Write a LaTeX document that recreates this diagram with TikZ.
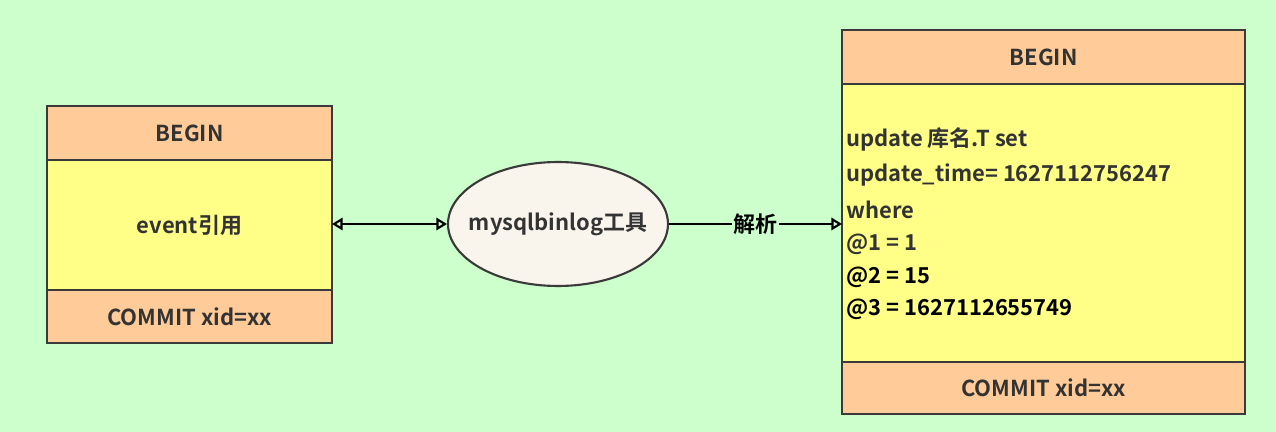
\documentclass[tikz,border=0pt]{standalone}
\usepackage{fontspec}
\setmainfont{Noto Sans CJK SC}[BoldFont={Noto Sans CJK SC Bold}]
\usetikzlibrary{shapes,positioning,arrows.meta}
\definecolor{bgc}{HTML}{CCFFCC}
\definecolor{headc}{HTML}{FFCC99}
\definecolor{bodyc}{HTML}{FFFF88}
\definecolor{ovalc}{HTML}{F9F5EC}
\definecolor{linec}{HTML}{3A3A3A}
\definecolor{txtc}{HTML}{333333}

\begin{document}
\begin{tikzpicture}[x=0.02cm,y=-0.02cm,
  band/.style={draw=linec,line width=1.2pt},
  lbl/.style={font=\fontsize{12.5}{15}\selectfont\bfseries,text=txtc},
  link/.style={line width=1.2pt,-{Triangle[open,length=6pt,width=7pt]}}]

\fill[bgc] (0,0) rectangle (1276,432);
\useasboundingbox (0,0) rectangle (1276,432);

% left block
\filldraw[band,fill=headc] (47,106) rectangle (332,160);
\filldraw[band,fill=bodyc] (47,160) rectangle (332,290);
\filldraw[band,fill=headc] (47,290) rectangle (332,343);
\node[lbl] (lbegin) at (189.5,133) {BEGIN};
\node[lbl] (levent) at (189.5,225) {event引用};
\node[lbl] (lcommit) at (189.5,317) {COMMIT xid=xx};
\coordinate (lright) at (332,224);

% tool
\node[ellipse,draw=linec,line width=1.2pt,fill=ovalc,
      inner sep=0pt,minimum width=4.4cm,minimum height=2.48cm] (tool) at (558,224) {};
\node[lbl] (toolname) at (558,224) {mysqlbinlog工具};

% right block
\filldraw[band,fill=headc] (842,30) rectangle (1245,84);
\filldraw[band,fill=bodyc] (842,84) rectangle (1245,362);
\filldraw[band,fill=headc] (842,362) rectangle (1245,414);
\node[lbl] (rbegin) at (1043.5,57) {BEGIN};
\node[lbl] (rcommit) at (1043.5,388) {COMMIT xid=xx};
\coordinate (rleft) at (842,224);

\node[lbl,anchor=west,inner sep=0pt] (l1) at (846,139) {update 库名.T set};
\node[lbl,anchor=west,inner sep=0pt] (l2) at (846,175) {update\_time= 1627112756247};
\node[lbl,anchor=west,inner sep=0pt] (l3) at (846,210) {where};
\node[lbl,anchor=west,inner sep=0pt] (l4) at (846,244) {@1 = 1};
\node[lbl,anchor=west,inner sep=0pt,text=black] (l5) at (846,277) {@2 = 15};
\node[lbl,anchor=west,inner sep=0pt,text=black] (l6) at (846,309) {@3 = 1627112655749};

% connectors
\draw[link,{Triangle[open,length=6pt,width=7pt]}-{Triangle[open,length=6pt,width=7pt]}] (lright) -- (tool.west);
\draw[link] (tool.east) -- node[lbl,text=black,fill=bgc,inner sep=1pt] (parse) {解析} (rleft);

\end{tikzpicture}
\end{document}
